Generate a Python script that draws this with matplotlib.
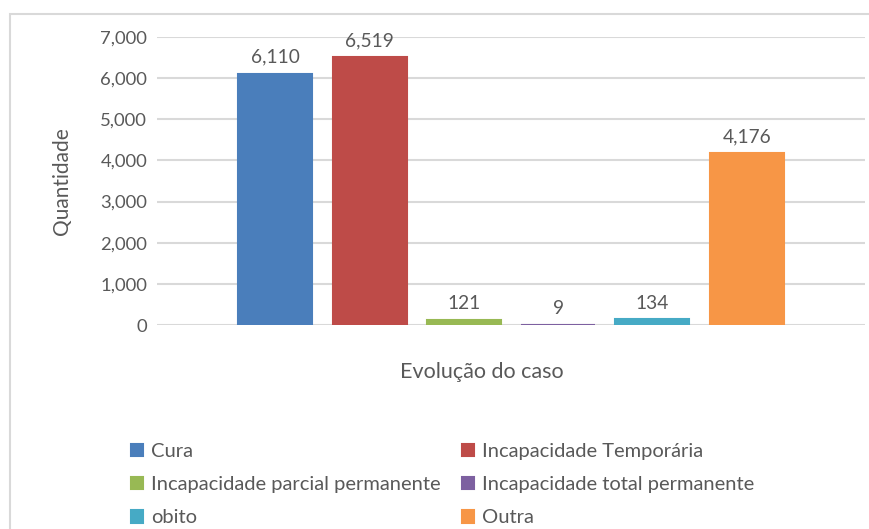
import matplotlib.pyplot as plt
from matplotlib.patches import Rectangle
from matplotlib.ticker import FuncFormatter

# data
series = ["Cura", "Incapacidade Temporária", "Incapacidade parcial permanente",
          "Incapacidade total permanente", "obito", "Outra"]
values = [6110, 6519, 121, 9, 134, 4176]
colors = ["#4A7EBB", "#BE4B48", "#98B954", "#7D60A0", "#46AAC5", "#F79646"]
yticks = [0, 1000, 2000, 3000, 4000, 5000, 6000, 7000]

plt.rcParams['font.family'] = ['Lato', 'DejaVu Sans']
txt = "#595959"

fig = plt.figure(figsize=(8.7, 5.29), dpi=100)
ax = fig.add_axes([157/870, 1-325/529, (865-157)/870, (325-37)/529])

# single category, six bars side by side
w = 74/708
step = 94.3/708
bars = []
for i, (name, v, c) in enumerate(zip(series, values, colors)):
    x = (i - 2.5) * step
    b = ax.bar(x, v, width=w, color=c, edgecolor=c, linewidth=1.5, label=name, zorder=3)
    bars.append(b)
    ax.text(x, v + 190, f"{v:,}", ha="center", va="bottom", fontsize=13.8, color=txt)

ax.set_xlim(-0.5, 0.5)
ax.set_ylim(0, 7000)
ax.set_yticks(yticks)
ax.yaxis.set_major_formatter(FuncFormatter(lambda v, p: f"{int(v):,}"))
ax.tick_params(axis="y", length=0, labelsize=13.3, labelcolor=txt, pad=7)
ax.set_xticks([])
ax.grid(axis="y", color="#D9D9D9", linewidth=1.5, zorder=0)
for s in ax.spines.values():
    s.set_visible(False)

fig.text(62/870, 1-181/529, "Quantidade", rotation=90, ha="center", va="center",
         fontsize=15, color=txt)
fig.text(482/870, 1-372/529, "Evolução do caso", ha="center", va="center",
         fontsize=15.5, color=txt)

# legend filled row by row
order = [0, 2, 4, 1, 3, 5]
handles = [bars[i] for i in order]
labels = [series[i] for i in order]
fig.legend(handles, labels, ncol=2, loc="upper left", bbox_to_anchor=(131/870, 1-443/529),
           frameon=False, fontsize=14.5, labelcolor=txt, handlelength=0.6, handleheight=0.6,
           handletextpad=0.4, columnspacing=1.05, labelspacing=0.8, borderpad=0,
           borderaxespad=0)

# chart border
fig.patches.append(Rectangle((10/870, -0.1), 1.2, 1-14/529+0.1, transform=fig.transFigure,
                             fill=False, edgecolor="#D9D9D9", linewidth=1.5))

fig.savefig("out.png", dpi=100)
